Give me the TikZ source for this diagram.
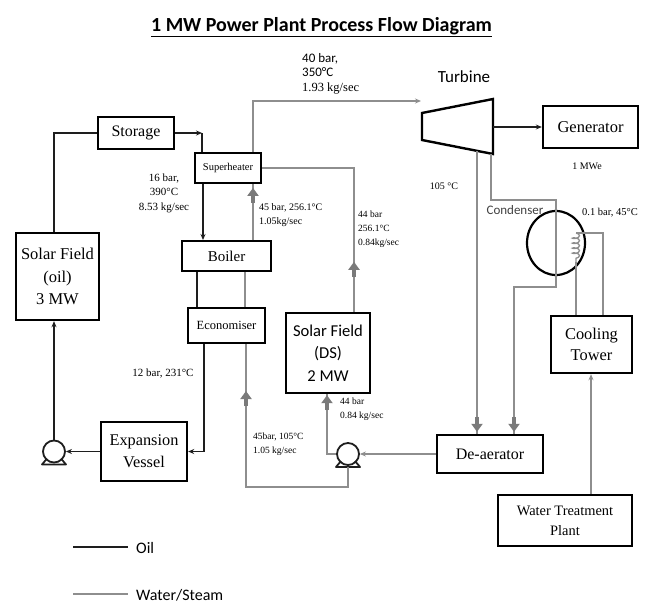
\documentclass[tikz,border=0pt]{standalone}
\usepackage{fontspec}
\setmainfont{Liberation Serif}
\newfontfamily\sansf{Carlito}
\usetikzlibrary{arrows.meta,calc,decorations.markings,decorations.pathmorphing,shapes.geometric}
\definecolor{oilc}{HTML}{1E1E1E}
\definecolor{watc}{HTML}{8E8E8E}
\definecolor{fatc}{HTML}{7A7A7A}
\begin{document}
\begin{tikzpicture}[x=1pt,y=-1pt,
  box/.style={draw=black,line width=2.4pt,inner sep=0pt,align=center,rectangle},
  oil/.style={draw=oilc,line width=1.8pt},
  wat/.style={draw=watc,line width=1.6pt},
  tip/.style={-{Stealth[length=6pt,width=5pt]}},
  fat/.style={postaction={decorate},decoration={markings,mark=at position #1 with {\draw[fatc,line width=4.5pt,-{Triangle[length=8pt,width=11pt]}] (-15pt,0pt) -- (0pt,0pt);}}},
  lbl/.style={inner sep=0pt,font=\fontsize{10}{14}\selectfont,align=left},
  pumpst/.style={circle,draw=oilc,line width=1.8pt,minimum size=22pt,inner sep=0pt},
]
\useasboundingbox (0,0) rectangle (647,605);

% title
\node[anchor=base,inner sep=0pt,font=\sansf\bfseries\fontsize{20}{24}\selectfont] (title) at (321.5,31) {\underline{1 MW Power Plant Process Flow Diagram}};

% boxes
\node[box,minimum width=76pt,minimum height=32pt,font=\fontsize{16}{18}\selectfont] (storage) at (136,133) {Storage};
\node[box,line width=1.8pt,minimum width=66pt,minimum height=30pt,font=\fontsize{10.5}{12}\selectfont] (sh) at (228,168) {Superheater};
\node[box,line width=2pt,minimum width=89pt,minimum height=30pt,font=\fontsize{15}{17}\selectfont] (boiler) at (226.5,256) {Boiler};
\node[box,line width=2pt,minimum width=77pt,minimum height=35pt,font=\fontsize{12.5}{14}\selectfont] (econ) at (226.5,325.5) {Economiser};
\node[box,minimum width=83pt,minimum height=87pt,font=\fontsize{16.5}{22.5}\selectfont] (solaroil) at (57.5,276.5) {Solar Field\\(oil)\\3 MW};
\node[box,minimum width=86pt,minimum height=59pt,font=\fontsize{16.3}{22}\selectfont] (exp) at (144,451.5) {Expansion\\Vessel};
\node[box,minimum width=84pt,minimum height=80pt,font=\sansf\fontsize{16.6}{22.5}\selectfont] (ds) at (328,353) {Solar Field\\(DS)\\2 MW};
\node[box,minimum width=106pt,minimum height=38pt,font=\fontsize{16}{18}\selectfont] (dea) at (490,454) {De-aerator};
\node[box,minimum width=95pt,minimum height=42pt,font=\fontsize{16.5}{18}\selectfont] (gen) at (590.5,127) {Generator};
\node[box,minimum width=81pt,minimum height=57pt,font=\fontsize{16.4}{21}\selectfont] (cool) at (591.5,344.5) {Cooling\\Tower};
\node[box,minimum width=134pt,minimum height=51pt,font=\fontsize{14.4}{20}\selectfont] (wtp) at (565,520.5) {Water Treatment\\Plant};

% turbine
\coordinate (tA) at (422,113);
\coordinate (tB) at (493,99);
\coordinate (tC) at (493,154);
\coordinate (tD) at (422,140);
\draw[black,line width=2.4pt,line join=miter] (tA) -- (tB) -- (tC) -- (tD) -- cycle;
\coordinate (tin) at (421,101);
\coordinate (tE) at (493,127);
\coordinate (tB1) at (477,151);
\coordinate (tB2) at (491,154);

% pumps
\node[pumpst] (pumpA) at (54,451.5) {};
\draw[oil,line join=round] ($(pumpA)+(-7,7)$) -- ($(pumpA)+(-12,13)$) -- ($(pumpA)+(12,13)$) -- ($(pumpA)+(7,7)$);
\node[pumpst] (pumpB) at (348,454) {};
\draw[oil,line join=round] ($(pumpB)+(-7,7)$) -- ($(pumpB)+(-12,13)$) -- ($(pumpB)+(12,13)$) -- ($(pumpB)+(7,7)$);
\coordinate (pBb) at (348,467);

% condenser
\node[ellipse,draw=black,line width=2.2pt,minimum width=58pt,minimum height=64pt,inner sep=0pt] (cond) at (556,243) {};

% oil connectors
\draw[oil] (storage.west) -| (pumpA.north |- solaroil.north);
\coordinate (c1) at (202,133);
\draw[oil,tip] (storage.east) -- (c1);
\draw[oil] (c1) -- (c1 |- sh.north);
\draw[oil,tip] ([xshift=-25pt]sh.south) -- ([xshift=-25pt]sh.south |- boiler.north);
\draw[oil] ([xshift=-29.5pt]boiler.south) -- ([xshift=-29.5pt]boiler.south |- econ.north);
\draw[oil,tip] ([xshift=-22.5pt]econ.south) |- (exp.east);
\draw[oil,tip] (exp.west) -- (pumpA.east);
\draw[oil,tip] (pumpA.north) -- (pumpA.north |- solaroil.south);
\draw[oil,tip] (tE) -- (gen.west);

% water connectors
\draw[wat,tip] ([xshift=25pt]sh.north) |- (tin);
\draw[wat,fat=50pt] ([xshift=26pt]ds.north) |- (sh.east);
\draw[wat,fat=-4pt] ([xshift=26.5pt]boiler.north) -- ([xshift=26.5pt]boiler.north |- sh.south);
\draw[wat] ([xshift=18.5pt]econ.north) -- ([xshift=18.5pt]econ.north |- boiler.south);
\coordinate (loopc) at (246,487);
\draw[wat,fat=-47pt] (pBb) |- (loopc) -- (loopc |- econ.south);
\draw[wat,fat=-1pt] (pumpB.west) -| ([xshift=-1pt]ds.south);
\draw[wat,tip] (dea.west) -- (pumpB.east);
\draw[wat,fat=-2pt] (tB1) -- (tB1 |- dea.north);
\coordinate (k1) at (556,200);
\coordinate (k2) at (556,287);
\coordinate (k3) at (514,287);
\draw[wat,fat=-2pt] (tB2) |- (k1) -- (k2) -| (k3 |- dea.north);
\coordinate (coilT) at (576,233);
\coordinate (coilB) at (576,262);
\draw[wat] (coilT) -| ([xshift=11.5pt]cool.north);
\draw[wat,line width=1.3pt,decorate,decoration={coil,aspect=0.4,segment length=5pt,amplitude=3.5pt}] (coilT) -- (coilB);
\draw[wat] (coilB) -- (coilB |- cool.north);
\draw[wat,line width=1.3pt,tip] ([xshift=26pt]wtp.north) -- ([xshift=26pt]wtp.north |- cool.south);

% labels
\node[lbl,anchor=north west,font=\fontsize{13}{14.5}\selectfont] (l40) at (302,53) {\sansf 40 bar,\\\sansf 350°C\\\rmfamily\fontsize{12.5}{14}\selectfont 1.93 kg/sec};
\node[inner sep=0pt,font=\sansf\fontsize{17}{19}\selectfont] (turblbl) at (464,77) {Turbine};
\node[lbl,align=center,font=\fontsize{11}{14.5}\selectfont] (l16) at (164,193) {16 bar,\\390°C\\8.53 kg/sec};
\node[lbl,font=\fontsize{11}{13}\selectfont] (l12) at (163,374) {12 bar, 231°C};
\node[lbl,anchor=west] (l45) at (259,215) {45 bar, 256.1°C\\1.05kg/sec};
\node[lbl,anchor=west,font=\fontsize{9.5}{14}\selectfont] (l44a) at (358,229) {44 bar\\256.1°C\\0.84kg/sec};
\node[lbl,anchor=west,font=\fontsize{9.5}{14}\selectfont] (l44b) at (340,409) {44 bar\\0.84 kg/sec};
\node[lbl,anchor=west,font=\fontsize{9.5}{14}\selectfont] (l45b) at (253,444) {45bar, 105°C\\1.05 kg/sec};
\node[lbl] (lmwe) at (587,166) {1 MWe};
\node[lbl] (l105) at (444,186) {105 °C};
\node[inner sep=0pt,text=black!75,font=\sansf\fontsize{13}{15}\selectfont] (lcond) at (515,210) {Condenser};
\node[lbl,font=\fontsize{10.5}{12}\selectfont] (l01) at (610,213) {0.1 bar, 45°C};

% legend
\draw[draw=oilc,line width=2.4pt] (73,547) -- (128,547);
\node[anchor=west,inner sep=0pt,font=\sansf\fontsize{16}{18}\selectfont] (legoil) at (136,548) {Oil};
\draw[draw=watc,line width=2.4pt] (73,594) -- (128,594);
\node[anchor=west,inner sep=0pt,font=\sansf\fontsize{16}{18}\selectfont] (legwat) at (136,595) {Water/Steam};
\end{tikzpicture}
\end{document}
